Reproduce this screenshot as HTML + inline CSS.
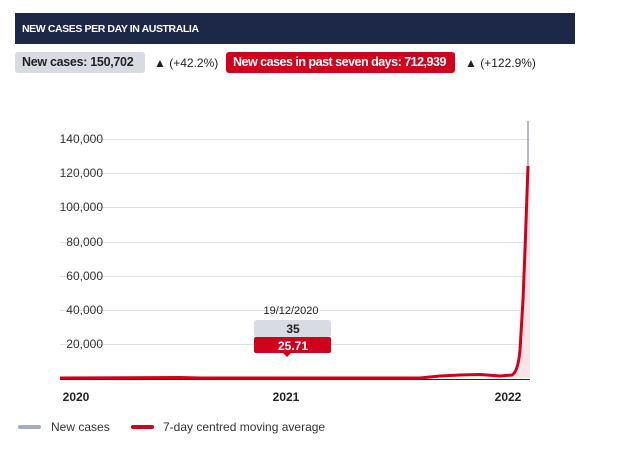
<!DOCTYPE html>
<html><head><style>
body{margin:0;width:621px;height:452px;background:#fff;font-family:"Liberation Sans",sans-serif;overflow:hidden;position:relative}
.t{position:absolute;white-space:nowrap}
</style></head><body>
<div class="t" style="left:15px;top:13px;width:560px;height:31px;background:#1d2747"></div>
<div class="t" style="left:22px;top:23px;color:#fff;font-size:10.5px;font-weight:bold;letter-spacing:-0.4px">NEW CASES PER DAY IN AUSTRALIA</div>
<div class="t" style="left:15px;top:52px;width:130px;height:21px;background:#d8dbe2;border-radius:3px"></div>
<div class="t" style="left:22px;top:55px;font-size:12.5px;font-weight:bold;color:#222;letter-spacing:-0.3px">New cases: 150,702</div>
<div class="t" style="left:154px;top:56px;font-size:12px;color:#222">&#9650; (+42.2%)</div>
<div class="t" style="left:226px;top:52px;width:229px;height:21px;background:#d0021b;border-radius:3px"></div>
<div class="t" style="left:233px;top:55px;font-size:12.5px;font-weight:bold;color:#fff;letter-spacing:-0.5px">New cases in past seven days: 712,939</div>
<div class="t" style="left:465px;top:56px;font-size:12px;color:#222">&#9650; (+122.9%)</div>
<svg class="t" style="left:0;top:0" width="621" height="452">
<g stroke="#dfe1e8" stroke-width="1">
<line x1="60" x2="530" y1="139.5" y2="139.5"/><line x1="60" x2="530" y1="173.5" y2="173.5"/>
<line x1="60" x2="530" y1="207.5" y2="207.5"/><line x1="60" x2="530" y1="242.5" y2="242.5"/>
<line x1="60" x2="530" y1="276.5" y2="276.5"/><line x1="60" x2="530" y1="310.5" y2="310.5"/>
<line x1="60" x2="530" y1="344.5" y2="344.5"/></g>
<g font-size="12" fill="#333" text-anchor="end">
<text x="103" y="143">140,000</text><text x="103" y="177">120,000</text><text x="103" y="211">100,000</text>
<text x="103" y="246">80,000</text><text x="103" y="280">60,000</text><text x="103" y="314">40,000</text>
<text x="103" y="348">20,000</text></g>
<path d="M512,378 L518,360 L522,320 L525,250 L528,166 L530,166 L530,378 Z" fill="#fbe3e6"/>
<line x1="60" x2="530" y1="379.5" y2="379.5" stroke="#1d2747"/>
<path d="M528,121 L528,180" stroke="#9aa3b5" stroke-width="1.5"/>
<path d="M60,378 L180,377.5 L200,378 L420,378 L440,376 L460,375 L480,374.5 L500,376 L512,375 Q518,372 520,350 L523,300 L525,250 L528,166" fill="none" stroke="#d0021b" stroke-width="3"/>
<text x="291" y="314" font-size="11" fill="#222" text-anchor="middle">19/12/2020</text>
<rect x="254" y="320" width="77" height="17" rx="3" fill="#d8dbe2"/>
<rect x="254" y="337" width="77" height="16" rx="2" fill="#d0021b"/>
<path d="M287,353 l-4,0 4,4 4,-4z" fill="#d0021b"/>
<text x="293" y="333" font-size="12" font-weight="bold" fill="#222" text-anchor="middle">35</text>
<text x="293" y="350" font-size="12" font-weight="bold" fill="#fff" text-anchor="middle">25.71</text>
<g font-size="12" font-weight="bold" fill="#222" text-anchor="middle">
<text x="76" y="401">2020</text><text x="286" y="401">2021</text><text x="508" y="401">2022</text></g>
<rect x="18" y="425" width="23" height="4" rx="2" fill="#a4abbb"/>
<text x="51" y="431" font-size="12" fill="#333">New cases</text>
<rect x="131" y="425" width="23" height="4" rx="2" fill="#d0021b"/>
<text x="163" y="431" font-size="12" fill="#333">7-day centred moving average</text>
</svg>
</body></html>
